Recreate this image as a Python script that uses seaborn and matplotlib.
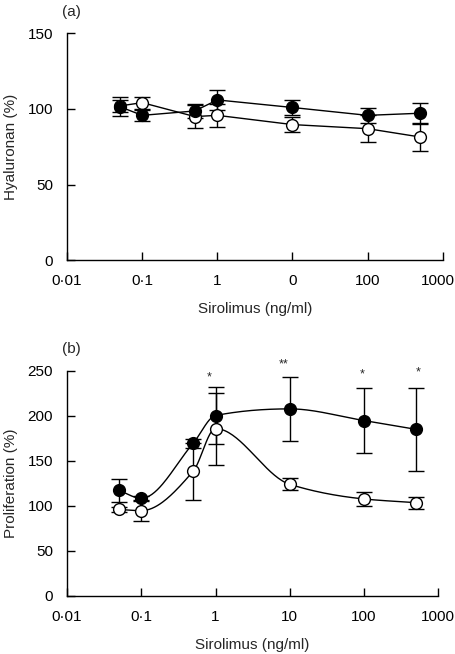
import numpy as np
import pandas as pd
import matplotlib
matplotlib.use("Agg")
import matplotlib.pyplot as plt
import matplotlib.transforms as mtransforms
import seaborn as sns

# data
dose = [0.05, 0.1, 0.5, 1, 10, 100, 500]

hya_filled = [101.6, 95.8, 98.7, 106.0, 101.0, 95.8, 97.2]
hya_filled_err = [6.5, 3.5, 4.5, 6.5, 5.0, 4.8, 7.0]
hya_open = [102.0, 104.2, 95.0, 95.8, 89.7, 87.0, 81.5]
hya_open_err = [4.0, 4.0, 7.5, 7.8, 4.9, 9.0, 9.0]

pro_filled = [117.2, 108.3, 169.5, 200.3, 207.7, 194.7, 185.0]
pro_filled_err = [12.6, 3.0, 5.0, 31.2, 35.8, 35.8, 46.0]
pro_open = [96.0, 94.6, 138.4, 185.8, 123.9, 107.6, 103.5]
pro_open_err = [3.0, 11.9, 31.6, 40.0, 6.8, 8.1, 6.8]

star_dose = [0.83, 8.3, 94, 540]
star_y = [239, 253.5, 242.5, 244.5]
star_text = ["*", "**", "*", "*"]

xticks = [0.01, 0.1, 1, 10, 100, 1000]
xlabels_a = ["0·01", "0·1", "1", "0", "100", "1000"]
xlabels_b = ["0·01", "0·1", "1", "10", "100", "1000"]


def pchip_line(x, y, n=40):
    # smooth monotone connecting curve in log-x space (for the drawn line only)
    lx = np.log10(np.asarray(x, float))
    y = np.asarray(y, float)
    h = np.diff(lx)
    d = np.diff(y) / h
    m = np.zeros(len(lx))
    m[0], m[-1] = d[0], d[-1]
    for k in range(1, len(lx) - 1):
        if d[k - 1] * d[k] <= 0:
            m[k] = 0
        else:
            w1 = 2 * h[k] + h[k - 1]
            w2 = h[k] + 2 * h[k - 1]
            m[k] = (w1 + w2) / (w1 / d[k - 1] + w2 / d[k])
    xs, ys = [], []
    for k in range(len(lx) - 1):
        t = np.linspace(0, 1, n)
        h00 = 2 * t**3 - 3 * t**2 + 1
        h10 = t**3 - 2 * t**2 + t
        h01 = -2 * t**3 + 3 * t**2
        h11 = t**3 - t**2
        xs.append(lx[k] + t * h[k])
        ys.append(h00 * y[k] + h10 * h[k] * m[k] + h01 * y[k + 1] + h11 * h[k] * m[k + 1])
    return 10 ** np.concatenate(xs), np.concatenate(ys)


sns.set_style("ticks")
plt.rcParams["font.family"] = ["Liberation Sans", "DejaVu Sans"]
plt.rcParams["font.size"] = 11

fig = plt.figure(figsize=(4.56, 6.54), dpi=100)
ax_a = fig.add_axes([0.147, 0.602, 0.824, 0.347])
ax_b = fig.add_axes([0.147, 0.089, 0.814, 0.344])

mk = dict(marker="o", markersize=8.5, markeredgecolor="black", markeredgewidth=1.0)
eb = dict(fmt="none", ecolor="black", elinewidth=1.0, capsize=5.5, capthick=1.0)

# panel a: straight segments
df_a = pd.DataFrame({"dose": dose * 2,
                     "value": hya_open + hya_filled,
                     "group": ["open"] * 7 + ["filled"] * 7})
for grp, err, face in [("open", hya_open_err, "white"), ("filled", hya_filled_err, "black")]:
    sub = df_a[df_a["group"] == grp]
    ax_a.errorbar(sub["dose"], sub["value"], yerr=err, zorder=2, **eb)
    sns.lineplot(data=sub, x="dose", y="value", ax=ax_a, color="black", linewidth=1.0,
                 markerfacecolor=face, zorder=3, **mk)

# panel b: smooth curves
for y, err, face in [(pro_open, pro_open_err, "white"), (pro_filled, pro_filled_err, "black")]:
    ax_b.errorbar(dose, y, yerr=err, zorder=2, **eb)
    cx, cy = pchip_line(dose, y)
    ax_b.plot(cx, cy, color="black", linewidth=1.0, zorder=3)
    sns.scatterplot(x=dose, y=y, ax=ax_b, s=72, color=face, edgecolor="black",
                    linewidth=1.0, zorder=4)

for sx, sy, st in zip(star_dose, star_y, star_text):
    ax_b.text(sx, sy, st, ha="center", va="baseline", fontsize=9)

for ax, ylab, ylim, ystep, xl in [(ax_a, "Hyaluronan (%)", 150, 50, xlabels_a),
                                   (ax_b, "Proliferation (%)", 250, 50, xlabels_b)]:
    ax.set_xscale("log")
    ax.set_xlim(0.01, 1000)
    ax.set_ylim(0, ylim)
    ax.set_xticks(xticks)
    ax.set_xticklabels(xl)
    ax.minorticks_off()
    ax.set_yticks(np.arange(0, ylim + 1, ystep))
    ax.set_xlabel("Sirolimus (ng/ml)", labelpad=10)
    ax.set_ylabel(ylab, labelpad=7)
    ax.tick_params(direction="in", length=5.5, width=1.0, colors="black", labelsize=11, pad=10)
    sns.despine(ax=ax)
    for s in ["left", "bottom"]:
        ax.spines[s].set_linewidth(1.0)
        ax.spines[s].set_color("black")

# nudge the last x label of panel a left so it stays on the canvas
last = ax_a.get_xticklabels()[-1]
last.set_transform(last.get_transform() + mtransforms.ScaledTranslation(-5 / 100, 0, fig.dpi_scale_trans))

fig.text(0.156, 0.982, "(a)", fontsize=11, ha="center", va="center")
fig.text(0.156, 0.466, "(b)", fontsize=11, ha="center", va="center")

fig.savefig("out.png", dpi=100)
